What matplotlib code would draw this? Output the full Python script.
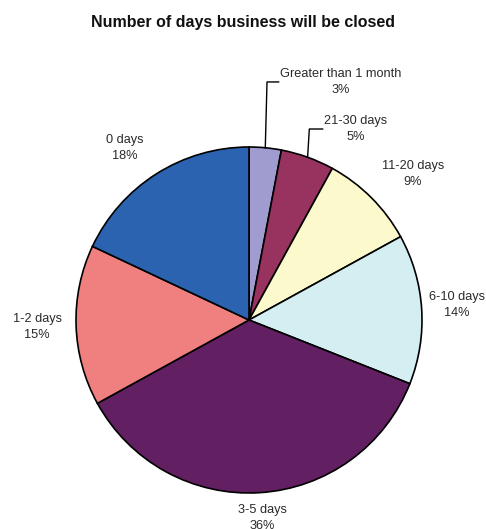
import numpy as np
import matplotlib
matplotlib.use("Agg")
import matplotlib.pyplot as plt

plt.rcParams['font.family'] = ['Liberation Sans', 'DejaVu Sans']

title = "Number of days business will be closed"
categories = ["Greater than 1 month", "21-30 days", "11-20 days", "6-10 days",
              "3-5 days", "1-2 days", "0 days"]
shares = [3, 5, 9, 14, 36, 15, 18]
colors = ["#A09CD0", "#98325F", "#FCF9CC", "#D5EEF2", "#621F61", "#F08080", "#2B63B0"]

# label anchors (data units, pie radius = 1) and which slices get a leader line
label_pos = [(0.532, 1.376), (0.618, 1.104), (0.948, 0.844), (1.202, 0.087),
             (0.075, -1.145), (-1.225, -0.040), (-0.717, 0.994)]
leader = [True, True, False, False, False, False, False]

W, H = 486, 529
fig = plt.figure(figsize=(W / 100, H / 100), dpi=100)
cx, cy, r = 249, 320, 173
ax = fig.add_axes([(cx - r) / W, (H - cy - r) / H, 2 * r / W, 2 * r / H])

wedges, _ = ax.pie(shares, colors=colors, startangle=90, counterclock=False,
                   wedgeprops=dict(edgecolor="black", linewidth=1.2),
                   radius=1.0)
ax.set_xlim(-1, 1)
ax.set_ylim(-1, 1)
ax.set_aspect("equal")
ax.axis("off")

texts = []
for cat, val, (x, y) in zip(categories, shares, label_pos):
    t = ax.text(x, y, f"{cat}\n{val}%", ha="center", va="center",
                fontsize=9.2, color="#2a2a2a", linespacing=1.45, clip_on=False)
    texts.append(t)

fig.canvas.draw()
inv = ax.transData.inverted()
for w, t, has_leader in zip(wedges, texts, leader):
    if not has_leader:
        continue
    mid = np.deg2rad((w.theta1 + w.theta2) / 2)
    ex, ey = np.cos(mid), np.sin(mid)
    bb = t.get_window_extent()
    (lx, _), = inv.transform([(bb.x0, bb.y0)])
    ly = t.get_position()[1]
    ax.plot([ex, ex + 0.01, lx - 0.01], [ey, ly, ly], color="black",
            linewidth=1.0, clip_on=False)

fig.text(0.5, 1 - 22 / H, title, ha="center", va="center",
         fontsize=11.5, fontweight="bold", color="#111111")

fig.savefig("out.png", dpi=100)
